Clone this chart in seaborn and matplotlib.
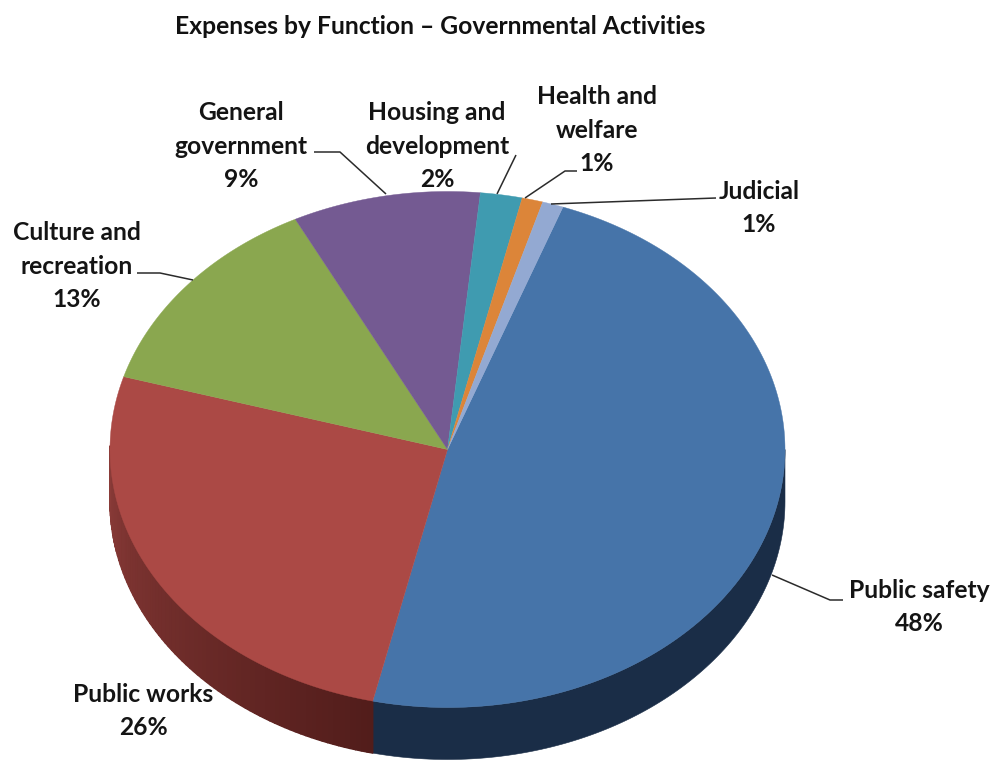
import numpy as np
import matplotlib
matplotlib.use("Agg")
import matplotlib.pyplot as plt
from matplotlib.patches import Polygon
from matplotlib.collections import PolyCollection
from matplotlib.colors import to_rgb
import seaborn as sns

TITLE = "Expenses by Function – Governmental Activities"
categories = ["Public safety", "Public works", "Culture and\nrecreation", "General\ngovernment",
              "Housing and\ndevelopment", "Health and\nwelfare", "Judicial"]
shares = [48, 26, 13, 9, 2, 1, 1]
slice_colors = ["#4674a9", "#ab4945", "#8aa74f", "#745a92", "#3f9bb0", "#dc8539", "#93a9d2"]

# Label block centres in canvas pixels
label_centres = [(919, 607), (143, 711), (77, 266), (241, 146), (437, 146), (597, 130), (759, 208)]
# Leader lines in canvas pixels
leaders = [
    [(772, 575), (830, 600), (843, 600)],
    [(193, 280), (160, 273), (137, 273)],
    [(386, 194), (340, 152), (314, 152)],
    [(497, 194), (516, 155)],
    [(525, 198), (565, 171), (577, 171)],
    [(551, 204), (716, 198)],
]

sns.set_theme(style="white")
plt.rcParams["font.family"] = ["Lato", "DejaVu Sans"]

W, H = 996, 761
fig = plt.figure(figsize=(W / 100, H / 100), dpi=100, facecolor="white")
ax = fig.add_axes([0, 0, 1, 1])
ax.set_xlim(0, W)
ax.set_ylim(H, 0)
ax.axis("off")

CX, CY, RX, RY, DEPTH = 447.5, 449.5, 337.5, 258.0, 52.0
START_DEG = 20.0


def rim(t_deg):
    t = np.radians(t_deg)
    return CX + RX * np.sin(t), CY - RY * np.cos(t)


edges = START_DEG + np.concatenate([[0], np.cumsum(shares)]) * 3.6

# Side wall, visible on the lower half of the ellipse
dark_blue = np.array(to_rgb("#1a2d47"))
red_low, red_high = np.array(to_rgb("#521d1b")), np.array(to_rgb("#8a3b38"))
for i in range(len(shares)):
    lo, hi = max(edges[i], 90), min(edges[i + 1], 270)
    if lo >= hi:
        continue
    steps = np.arange(lo, hi + 1, 1.0)
    x, y = rim(steps)
    outline = np.column_stack([np.r_[x, x[::-1]], np.r_[y, (y + DEPTH)[::-1]]])
    if i == 0:
        ax.add_patch(Polygon(outline, closed=True, facecolor=dark_blue, edgecolor=dark_blue, linewidth=0.4, zorder=1))
        continue
    # the red wall lightens toward the left side
    mix = np.clip((steps - lo) / (hi - lo), 0, 1)[:, None]
    ramp = red_low * (1 - mix) + red_high * mix
    ax.add_patch(Polygon(outline, closed=True, facecolor=ramp.mean(axis=0), edgecolor="none", zorder=1))
    quads = [[(x[k], y[k]), (x[k + 1], y[k + 1]), (x[k + 1], y[k + 1] + DEPTH), (x[k], y[k] + DEPTH)]
             for k in range(len(x) - 1)]
    ax.add_collection(PolyCollection(quads, facecolors=ramp[:-1], edgecolors=ramp[:-1], linewidths=1.0, zorder=1.1))

# Top face
for i, col in enumerate(slice_colors):
    ts = np.linspace(edges[i], edges[i + 1], max(int(shares[i] * 8), 12))
    x, y = rim(ts)
    pts = np.column_stack([np.r_[CX, x], np.r_[CY, y]])
    ax.add_patch(Polygon(pts, closed=True, facecolor=col, edgecolor=col, linewidth=0.3, zorder=2))

for path in leaders:
    xs, ys = zip(*path)
    ax.plot(xs, ys, color="#2b2b2b", lw=1.1, zorder=3, solid_capstyle="butt")

for name, share, (lx, ly) in zip(categories, shares, label_centres):
    ax.text(lx, ly, f"{name}\n{share}%", ha="center", va="center", fontsize=17.7, fontweight="bold",
            color="#141414", linespacing=1.55, zorder=4)

ax.text(440.5, 26, TITLE, ha="center", va="center", fontsize=17.7, fontweight="bold", color="#111111")

fig.savefig("out.png", dpi=100, facecolor="white")
